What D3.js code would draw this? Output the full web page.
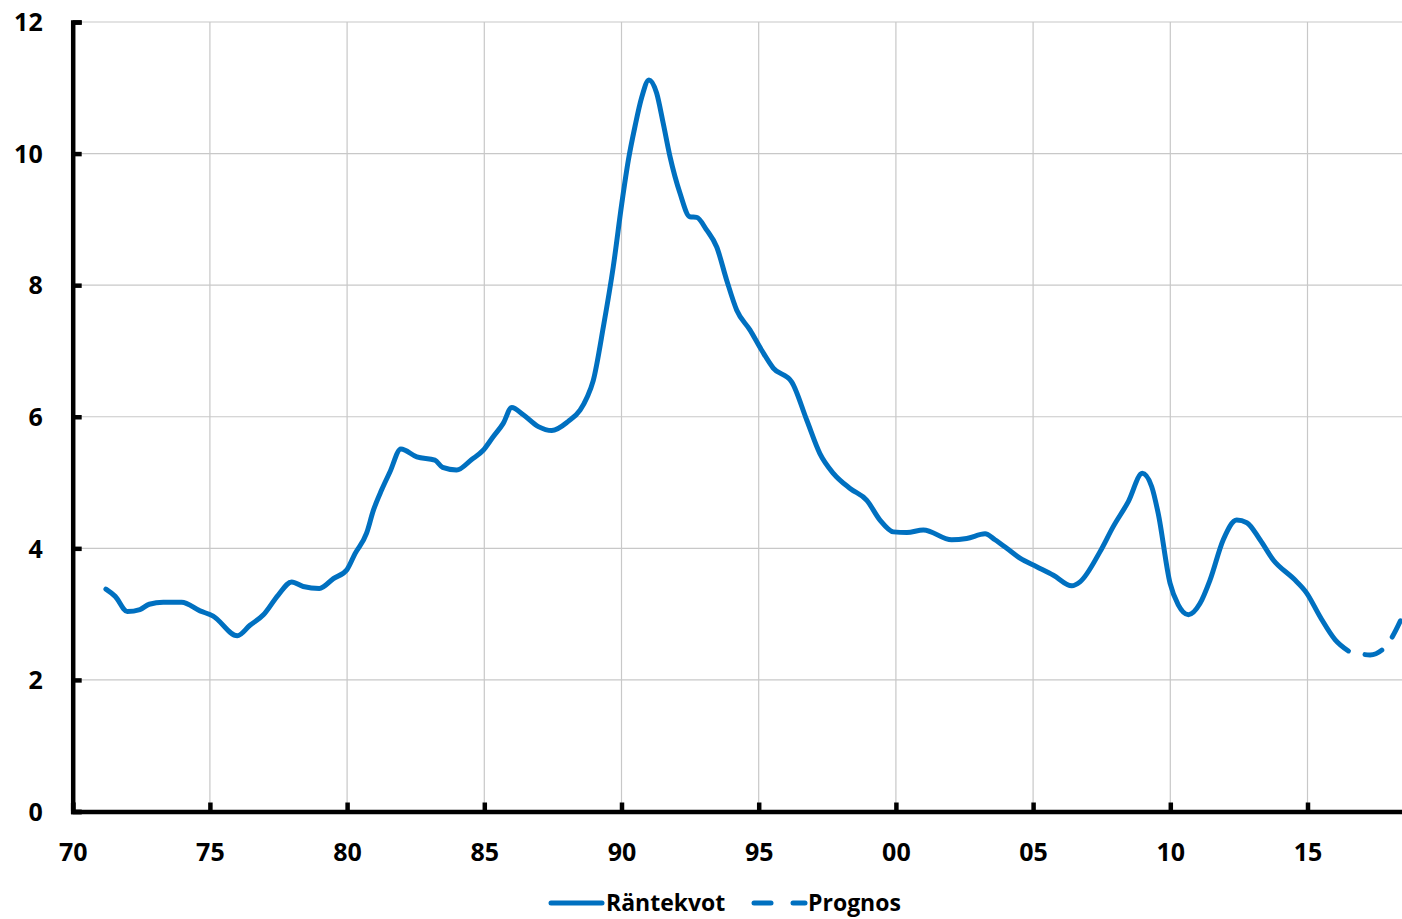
<!DOCTYPE html>
<html>
<head>
<meta charset="utf-8">
<script src="https://cdn.jsdelivr.net/npm/d3@7"></script>
<style>
  html, body { margin: 0; padding: 0; background: #fff; }
  svg { display: block; }
  text { font-family: "Open Sans", "DejaVu Sans", sans-serif; font-weight: 700; fill: #000; }
</style>
</head>
<body>
<svg id="chart" width="1402" height="919"></svg>
<script>
// ---- Data ----
const actualYears = [1971.21, 1971.55, 1971.99, 1972.45, 1972.79, 1973.30, 1973.97, 1974.64, 1975.12, 1976.00,
  1976.46, 1976.95, 1977.49, 1977.98, 1978.40, 1978.99, 1979.50, 1980.00, 1980.29, 1980.71,
  1980.96, 1981.26, 1981.56, 1981.96, 1982.54, 1983.20, 1983.48, 1983.99, 1984.54, 1984.96,
  1985.33, 1985.69, 1986.00, 1986.42, 1986.97, 1987.46, 1988.06, 1988.49, 1988.75, 1988.97,
  1989.34, 1989.70, 1990.01, 1990.25, 1990.49, 1990.74, 1991.00, 1991.28, 1991.52, 1991.77,
  1992.13, 1992.49, 1992.74, 1993.10, 1993.47, 1993.83, 1994.20, 1994.68, 1995.11, 1995.53,
  1996.20, 1996.75, 1997.23, 1997.72, 1998.33, 1998.94, 1999.42, 1999.91, 2000.40, 2001.00,
  2002.03, 2002.58, 2003.25, 2003.61, 2004.04, 2004.52, 2005.13, 2005.74, 2006.41, 2006.71,
  2007.44, 2007.92, 2008.47, 2008.98, 2009.32, 2009.56, 2009.99, 2010.29, 2010.66, 2011.08,
  2011.45, 2011.93, 2012.42, 2012.79, 2013.27, 2013.76, 2014.49, 2014.97, 2015.46, 2016.01,
  2016.49];
const actualValues = [3.38, 3.27, 3.04, 3.07, 3.15, 3.18, 3.18, 3.05, 2.97, 2.67,
  2.83, 2.99, 3.29, 3.49, 3.42, 3.39, 3.54, 3.68, 3.92, 4.23,
  4.58, 4.89, 5.16, 5.51, 5.39, 5.34, 5.23, 5.19, 5.35, 5.49,
  5.70, 5.90, 6.14, 6.03, 5.85, 5.79, 5.93, 6.10, 6.30, 6.55,
  7.37, 8.28, 9.24, 9.90, 10.41, 10.86, 11.12, 10.92, 10.46, 9.95,
  9.40, 9.04, 9.03, 8.84, 8.58, 8.08, 7.62, 7.32, 7.01, 6.74,
  6.53, 5.95, 5.44, 5.14, 4.91, 4.73, 4.43, 4.25, 4.24, 4.28,
  4.13, 4.15, 4.22, 4.13, 4.00, 3.85, 3.72, 3.59, 3.43, 3.49,
  3.95, 4.33, 4.71, 5.14, 4.94, 4.53, 3.47, 3.14, 2.99, 3.16,
  3.52, 4.13, 4.43, 4.39, 4.13, 3.82, 3.54, 3.32, 2.96, 2.61,
  2.44];
const forecastYears = [2016.49, 2017.28, 2017.83, 2018.50];
const forecastValues = [2.44, 2.38, 2.50, 3.00];
const xTickValues = [1970, 1975, 1980, 1985, 1990, 1995, 2000, 2005, 2010, 2015];
const yTickValues = [0, 2, 4, 6, 8, 10, 12];
const seriesNames = ["Räntekvot", "Prognos"];

// ---- Layout ----
const svg = d3.select("#chart");
const W = 1402;
const x = d3.scaleLinear().domain([1970, 2020]).range([72.7, 72.7 + 50 * 27.44]);
const y = d3.scaleLinear().domain([0, 12]).range([811.5, 22]);
const color = "#0070C0";

// Grid lines
svg.append("g").selectAll("line.h").data(yTickValues.filter(d => d > 0)).join("line")
  .attr("x1", x(1970)).attr("x2", W).attr("y1", d => y(d)).attr("y2", d => y(d))
  .attr("stroke", "#c8c8c8").attr("stroke-width", 1.2);
svg.append("g").selectAll("line.v").data(xTickValues.filter(d => d > 1970)).join("line")
  .attr("x1", d => x(d)).attr("x2", d => x(d)).attr("y1", y(12)).attr("y2", y(0))
  .attr("stroke", "#c8c8c8").attr("stroke-width", 1.2);

// Axes
const yAxis = d3.axisLeft(y).tickValues(yTickValues).tickSize(-9).tickPadding(30).tickFormat(d3.format("d"));
const gy = svg.append("g").attr("transform", `translate(${x(1970)},0)`).call(yAxis);
gy.select(".domain").attr("stroke", "#000").attr("stroke-width", 4.5);
gy.selectAll(".tick line").attr("stroke", "#000").attr("stroke-width", 4.5);
gy.selectAll(".tick text").style("font-size", "25px").attr("x", -30).attr("dy", "0.35em");

const xAxis = d3.axisBottom(x).tickValues(xTickValues).tickSize(-9).tickPadding(30)
  .tickFormat(d => String(d % 100).padStart(2, "0"));
const gx = svg.append("g").attr("transform", `translate(0,${y(0)})`).call(xAxis);
gx.select(".domain").attr("stroke", "#000").attr("stroke-width", 4.5);
gx.selectAll(".tick line").attr("stroke", "#000").attr("stroke-width", 4.5);
gx.selectAll(".tick text").style("font-size", "25px").attr("y", 32).attr("dy", "0.71em");

// Lines
const line = d3.line().x(d => x(d[0])).y(d => y(d[1])).curve(d3.curveMonotoneX);
const actual = actualYears.map((d, i) => [d, actualValues[i]]);
const forecast = forecastYears.map((d, i) => [d, forecastValues[i]]);

svg.append("path").datum(actual).attr("d", line)
  .attr("fill", "none").attr("stroke", color).attr("stroke-width", 5)
  .attr("stroke-linejoin", "round").attr("stroke-linecap", "round");
svg.append("path").datum(forecast).attr("d", line)
  .attr("fill", "none").attr("stroke", color).attr("stroke-width", 5)
  .attr("stroke-linecap", "round")
  .attr("stroke-dasharray", "18 17").attr("stroke-dashoffset", 18);

// Legend
const ly = 903;
const lg = svg.append("g");
lg.append("line").attr("x1", 551).attr("x2", 602).attr("y1", ly).attr("y2", ly)
  .attr("stroke", color).attr("stroke-width", 5).attr("stroke-linecap", "round");
lg.append("text").attr("x", 606).attr("y", ly).attr("dy", "0.35em").style("font-size", "23px").text(seriesNames[0]);
lg.append("line").attr("x1", 754).attr("x2", 771).attr("y1", ly).attr("y2", ly)
  .attr("stroke", color).attr("stroke-width", 5).attr("stroke-linecap", "round");
lg.append("line").attr("x1", 793).attr("x2", 805).attr("y1", ly).attr("y2", ly)
  .attr("stroke", color).attr("stroke-width", 5).attr("stroke-linecap", "round");
lg.append("text").attr("x", 808).attr("y", ly).attr("dy", "0.35em").style("font-size", "23px").text(seriesNames[1]);
</script>
</body>
</html>
